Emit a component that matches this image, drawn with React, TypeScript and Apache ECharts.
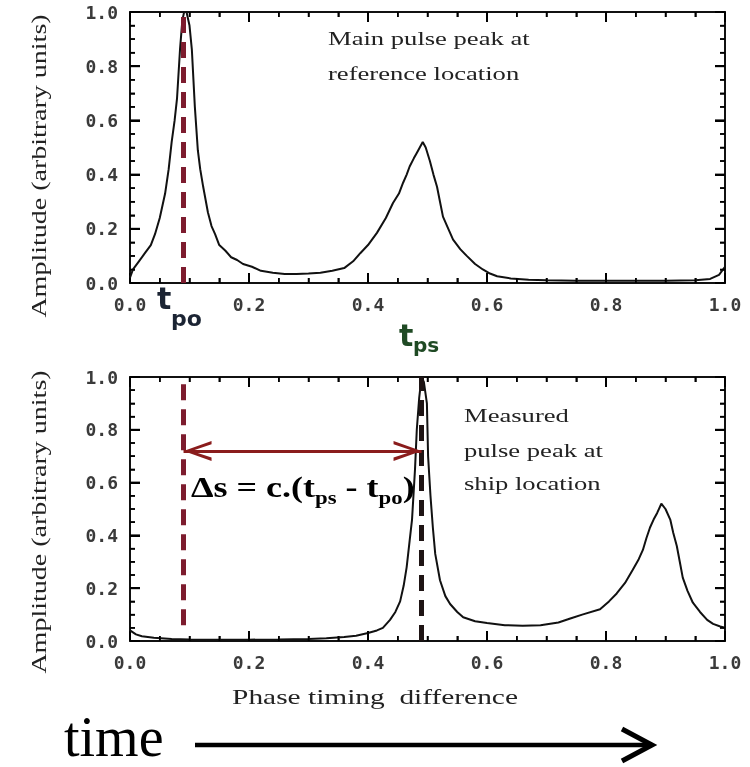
import React, { useEffect, useRef } from "react";
import * as echarts from "echarts";

// ---------- data ----------
const refX = [0.0, 0.005, 0.015, 0.025, 0.035, 0.042, 0.05, 0.059, 0.065, 0.07, 0.075, 0.079, 0.084, 0.088, 0.091, 0.095, 0.1, 0.104, 0.109, 0.114, 0.118, 0.123, 0.131, 0.137, 0.143, 0.15, 0.16, 0.17, 0.18, 0.19, 0.205, 0.22, 0.24, 0.26, 0.28, 0.3, 0.32, 0.34, 0.36, 0.375, 0.387, 0.4, 0.415, 0.43, 0.442, 0.452, 0.459, 0.465, 0.47, 0.477, 0.482, 0.487, 0.492, 0.497, 0.504, 0.51, 0.516, 0.521, 0.526, 0.535, 0.543, 0.555, 0.566, 0.58, 0.593, 0.605, 0.617, 0.64, 0.67, 0.7, 0.75, 0.8, 0.85, 0.9, 0.95, 0.975, 0.99, 1.0];
const refY = [0.02, 0.05, 0.08, 0.11, 0.14, 0.18, 0.24, 0.33, 0.42, 0.52, 0.6, 0.68, 0.86, 0.97, 1.0, 1.0, 0.95, 0.86, 0.65, 0.49, 0.42, 0.355, 0.26, 0.21, 0.18, 0.14, 0.12, 0.095, 0.085, 0.07, 0.06, 0.045, 0.038, 0.033, 0.033, 0.035, 0.038, 0.045, 0.055, 0.08, 0.11, 0.14, 0.185, 0.24, 0.295, 0.33, 0.37, 0.4, 0.43, 0.46, 0.48, 0.5, 0.52, 0.5, 0.45, 0.4, 0.355, 0.3, 0.245, 0.2, 0.16, 0.125, 0.1, 0.07, 0.05, 0.035, 0.025, 0.017, 0.012, 0.01, 0.008, 0.008, 0.008, 0.008, 0.01, 0.015, 0.03, 0.06];

const shipX = [0.0, 0.01, 0.02, 0.04, 0.07, 0.1, 0.15, 0.2, 0.25, 0.3, 0.33, 0.36, 0.38, 0.4, 0.415, 0.425, 0.437, 0.446, 0.454, 0.46, 0.465, 0.47, 0.474, 0.479, 0.482, 0.486, 0.49, 0.494, 0.499, 0.501, 0.505, 0.509, 0.513, 0.521, 0.53, 0.538, 0.55, 0.56, 0.58, 0.6, 0.63, 0.66, 0.69, 0.72, 0.74, 0.76, 0.79, 0.805, 0.818, 0.832, 0.845, 0.855, 0.862, 0.868, 0.874, 0.88, 0.886, 0.893, 0.9, 0.908, 0.913, 0.919, 0.924, 0.929, 0.937, 0.946, 0.958, 0.97, 0.98, 0.992, 1.0];
const shipY = [0.04, 0.025, 0.018, 0.012, 0.008, 0.006, 0.005, 0.005, 0.006, 0.008, 0.01, 0.015, 0.02, 0.03, 0.04, 0.05, 0.08, 0.11, 0.15, 0.21, 0.28, 0.38, 0.46, 0.65, 0.8, 0.92, 1.0, 0.98, 0.9, 0.7, 0.55, 0.43, 0.33, 0.23, 0.17, 0.14, 0.11, 0.09, 0.075, 0.068, 0.06, 0.058, 0.06, 0.07, 0.085, 0.1, 0.12, 0.15, 0.18, 0.22, 0.27, 0.31, 0.345, 0.39, 0.43, 0.46, 0.485, 0.52, 0.5, 0.46, 0.41, 0.36, 0.3, 0.24, 0.19, 0.145, 0.11, 0.08, 0.065, 0.055, 0.05];

// tick positions of the boxed frame (both axes run 0..1)
const MAJOR_TICKS = [0.2, 0.4, 0.6, 0.8];
const MINOR_TICKS = [0.05, 0.1, 0.15, 0.25, 0.3, 0.35, 0.45, 0.5, 0.55, 0.65, 0.7, 0.75, 0.85, 0.9, 0.95];

const T_PO = 0.09;
const T_PS = 0.49;
const ARROW_Y = 0.72;
const T_PO_LINE_LOW = 0.06;

const Y_TITLE = "Amplitude (arbitrary units)";
const X_TITLE = "Phase timing  difference";
const TOP_NOTE = ["Main pulse peak at", "reference location"];
const BOTTOM_NOTE = ["Measured", "pulse peak at", "ship location"];
const TIME_LABEL = "time";

// ---------- styling helpers ----------
const INK = "#111";
const SERIF = "Liberation Serif";
const CHEVRON = "path://M0,28 L10,0 L20,28 L16.6,28 L10,8 L3.4,28 Z";

// never throws, whatever ECharts passes in
const oneDecimal = (v: any) => {
  const n = Number(v);
  return isFinite(n) ? n.toFixed(1) : String(v);
};

function axisDef(gridIndex: number, position: string, showLabel: boolean) {
  return {
    type: "value",
    gridIndex,
    position,
    min: 0,
    max: 1,
    interval: 0.2,
    axisLine: { show: true, onZero: false, lineStyle: { color: INK, width: 2 } },
    axisTick: { show: true, inside: true, length: 10, lineStyle: { color: "#000", width: 2 } },
    minorTick: { show: true, splitNumber: 4, length: 5, lineStyle: { color: "#000", width: 1.5 } },
    splitLine: { show: false },
    axisLabel: {
      show: showLabel,
      margin: 12,
      fontFamily: "DejaVu Sans Mono",
      fontWeight: "bold",
      fontSize: 18,
      color: "#3a3a3a",
      formatter: oneDecimal,
    },
  };
}

function serifText(text: string, x: number, y: number, size: number, extra: any = {}) {
  return {
    type: "text",
    x,
    y,
    scaleX: extra.scaleX ?? 1.4,
    rotation: extra.rotation ?? 0,
    style: {
      text,
      fontFamily: SERIF,
      fontSize: size,
      fill: extra.fill ?? "#222",
      align: extra.align ?? "left",
      verticalAlign: "middle",
    },
    silent: true,
  };
}

// inward ticks on all four sides of a frame, placed through the axes' own scales
function tickSeries(xAxisIndex: number, yAxisIndex: number) {
  const data = [
    ...MAJOR_TICKS.map((v) => [v, 1]),
    ...MINOR_TICKS.map((v) => [v, 0]),
  ];
  return {
    type: "custom",
    xAxisIndex,
    yAxisIndex,
    silent: true,
    clip: false,
    z: 10,
    data,
    renderItem: (params: any, api: any) => {
      const v = api.value(0);
      const major = api.value(1) === 1;
      const len = major ? 10 : 5;
      const w = major ? 2 : 1.5;
      const b = api.coord([v, 0]);
      const t = api.coord([v, 1]);
      const l = api.coord([0, v]);
      const r = api.coord([1, v]);
      const st = { fill: "#000" };
      return {
        type: "group",
        children: [
          { type: "rect", shape: { x: b[0] - w / 2, y: b[1] - len, width: w, height: len }, style: st },
          { type: "rect", shape: { x: t[0] - w / 2, y: t[1], width: w, height: len }, style: st },
          { type: "rect", shape: { x: l[0], y: l[1] - w / 2, width: len, height: w }, style: st },
          { type: "rect", shape: { x: r[0] - len, y: r[1] - w / 2, width: len, height: w }, style: st },
        ],
      };
    },
  };
}

export default function App() {
  const ref = useRef<HTMLDivElement>(null);

  useEffect(() => {
    if (!ref.current) return;
    const chart = echarts.init(ref.current, undefined, { renderer: "svg" });

    const arrowStyle = { color: "#8a1c1c", width: 3, type: "solid" };

    const option: any = {
      animation: false,
      grid: [
        { left: 130, top: 12, width: 595, height: 271 },
        { left: 130, top: 377, width: 595, height: 264 },
      ],
      xAxis: [
        axisDef(0, "bottom", true),
        axisDef(0, "top", false),
        axisDef(1, "bottom", true),
        axisDef(1, "top", false),
      ],
      yAxis: [
        axisDef(0, "left", true),
        axisDef(0, "right", false),
        axisDef(1, "left", true),
        axisDef(1, "right", false),
      ],
      series: [
        {
          type: "line",
          xAxisIndex: 0,
          yAxisIndex: 0,
          data: refX.map((x, i) => [x, refY[i]]),
          showSymbol: false,
          lineStyle: { color: INK, width: 2 },
          markLine: {
            silent: true,
            symbol: "none",
            label: { show: false },
            lineStyle: { color: "#7d1c2e", width: 5, type: [16, 9] },
            data: [{ xAxis: T_PO }],
          },
        },
        {
          type: "line",
          xAxisIndex: 2,
          yAxisIndex: 2,
          data: shipX.map((x, i) => [x, shipY[i]]),
          showSymbol: false,
          lineStyle: { color: INK, width: 2 },
          markLine: {
            silent: true,
            symbol: "none",
            label: { show: false },
            lineStyle: { color: "#7d1c2e", width: 5, type: [16, 9] },
            data: [
              [{ coord: [T_PO, T_PO_LINE_LOW] }, { coord: [T_PO, 1] }],
              { xAxis: T_PS, lineStyle: { color: "#1e1414", width: 5, type: [16, 9] } },
              [
                { coord: [T_PO, ARROW_Y], symbol: CHEVRON, symbolSize: [20, 28], symbolOffset: [0, 14], lineStyle: arrowStyle },
                { coord: [T_PS, ARROW_Y], symbol: CHEVRON, symbolSize: [20, 28], symbolOffset: [0, 14], lineStyle: arrowStyle },
              ],
            ],
          },
        },
        tickSeries(0, 0),
        tickSeries(2, 2),
      ],
      graphic: [
        serifText(Y_TITLE, 39, 166, 20, { rotation: Math.PI / 2, align: "center" }),
        serifText(Y_TITLE, 39, 522, 20, { rotation: Math.PI / 2, align: "center" }),
        serifText(TOP_NOTE[0], 328, 38, 19),
        serifText(TOP_NOTE[1], 328, 73, 19),
        serifText(BOTTOM_NOTE[0], 464, 415, 19),
        serifText(BOTTOM_NOTE[1], 464, 450, 19),
        serifText(BOTTOM_NOTE[2], 464, 483, 19),
        serifText(X_TITLE, 375, 697, 21, { align: "center" }),
        {
          type: "text", x: 64, y: 737, silent: true,
          style: { text: TIME_LABEL, fontFamily: SERIF, fontSize: 56, fill: "#000", verticalAlign: "middle" },
        },
        {
          type: "text", x: 157, y: 298, silent: true,
          style: { text: "t", fontFamily: "DejaVu Sans", fontWeight: "bold", fontSize: 30, fill: "#1b2433", verticalAlign: "middle" },
        },
        {
          type: "text", x: 171, y: 318, silent: true,
          style: { text: "po", fontFamily: "DejaVu Sans", fontWeight: "bold", fontSize: 22, fill: "#1b2433", verticalAlign: "middle" },
        },
        {
          type: "text", x: 399, y: 335, silent: true,
          style: { text: "t", fontFamily: "DejaVu Sans", fontWeight: "bold", fontSize: 30, fill: "#1f4a24", verticalAlign: "middle" },
        },
        {
          type: "text", x: 413, y: 345, silent: true,
          style: { text: "ps", fontFamily: "DejaVu Sans", fontWeight: "bold", fontSize: 20, fill: "#1f4a24", verticalAlign: "middle" },
        },
        {
          type: "text", x: 191, y: 487, scaleX: 1.2, silent: true,
          style: {
            text: "{m|Δs = c.(t}{s|ps}{m| - t}{s|po}{m|)}",
            verticalAlign: "middle",
            rich: {
              m: { fontFamily: SERIF, fontWeight: "bold", fontSize: 30, lineHeight: 40, fill: "#000" },
              s: { fontFamily: SERIF, fontWeight: "bold", fontSize: 19, lineHeight: 19, verticalAlign: "bottom", fill: "#000" },
            },
          },
        },
        {
          type: "line", silent: true,
          shape: { x1: 195, y1: 745, x2: 650, y2: 745 },
          style: { stroke: "#000", lineWidth: 4.5 },
        },
        {
          type: "polyline", silent: true,
          shape: { points: [[622, 729], [652, 745], [622, 761]] },
          style: { stroke: "#000", lineWidth: 5, fill: "none" },
        },
      ],
    };

    chart.setOption(option);
    return () => chart.dispose();
  }, []);

  return <div ref={ref} style={{ position: "fixed", left: 0, top: 0, width: 750, height: 767 }} />;
}
